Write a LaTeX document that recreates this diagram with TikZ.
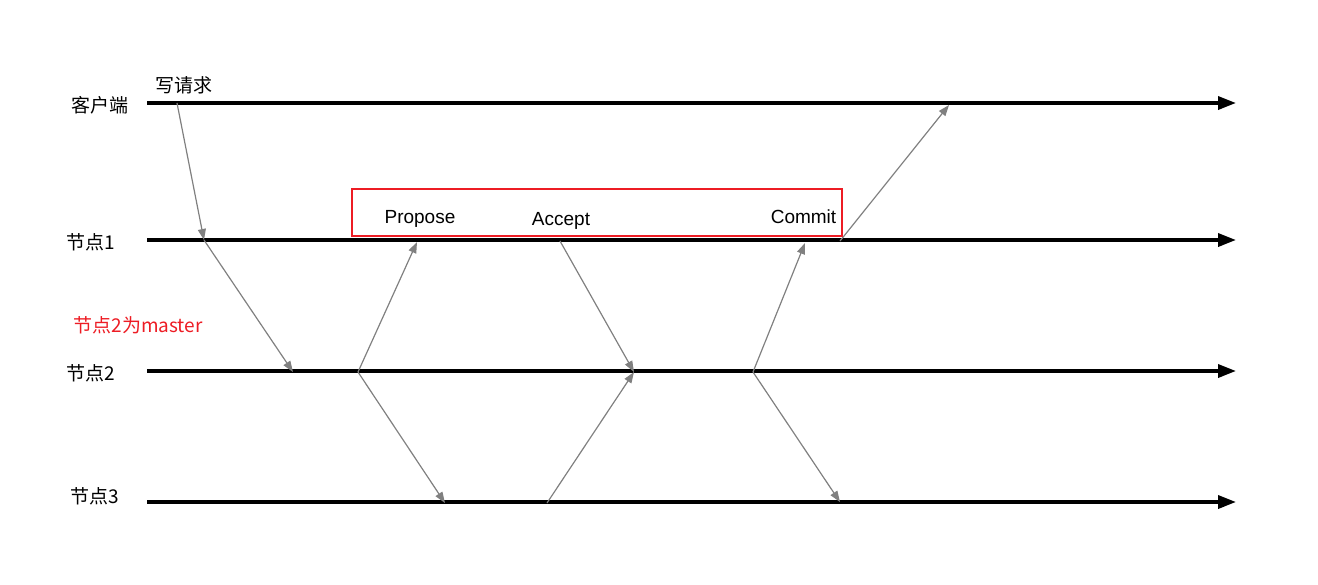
\documentclass[tikz,border=0pt]{standalone}
\usepackage{fontspec}
\usepackage{tikz}
\usetikzlibrary{arrows.meta}
\setmainfont{Liberation Sans}
\newfontfamily\cjk{Noto Sans CJK SC}
\definecolor{boxred}{RGB}{237,28,36}

\begin{document}
\begin{tikzpicture}[x=1pt, y=-1pt, every node/.style={inner sep=0pt, font=\fontsize{19}{21}\selectfont},
  timeline/.style={line width=3.5pt, -{Triangle[length=18pt, width=13pt]}},
  msg/.style={draw=gray, line width=1.2pt, -{Triangle[length=11pt, width=8pt]}}]
  \useasboundingbox (0,0) rectangle (1318,584);
  % lane labels
  \node (client) at (100,105) {\cjk 客户端};
  \node (n1) at (91,242) {\cjk 节点1};
  \node (n2) at (91,373) {\cjk 节点2};
  \node (n3) at (95,496) {\cjk 节点3};
  \node (req) at (184,85) {\cjk 写请求};
  \node [text=boxred] (master) at (138,325) {\cjk 节点2为master};
  % red box and phases
  \node [draw=boxred, line width=1.8pt, minimum width=490pt, minimum height=47pt] (phases) at (597,212.5) {};
  \node [anchor=base] (propose) at (420,223) {Propose};
  \node [anchor=base] (accept) at (561,225) {Accept};
  \node [anchor=base] (commit) at (803.5,223) {Commit};
  % lanes
  \coordinate (c0) at (147,103); \coordinate (c1) at (1236,103);
  \coordinate (a0) at (147,240); \coordinate (a1) at (1236,240);
  \coordinate (b0) at (147,371); \coordinate (b1) at (1236,371);
  \coordinate (d0) at (147,502); \coordinate (d1) at (1236,502);
  \draw [timeline] (c0) -- (c1);
  \draw [timeline] (a0) -- (a1);
  \draw [timeline] (b0) -- (b1);
  \draw [timeline] (d0) -- (d1);
  % message points
  \coordinate (cw) at (177,103);
  \coordinate (cr) at (949,105);
  \coordinate (aw) at (204,240);
  \coordinate (ap) at (417,242);
  \coordinate (aa) at (560,241);
  \coordinate (ac) at (805,243);
  \coordinate (ar) at (840,241);
  \coordinate (bw) at (293,372);
  \coordinate (bp) at (358,372);
  \coordinate (ba) at (634,372);
  \coordinate (bc) at (753,372);
  \coordinate (dp) at (445,503);
  \coordinate (da) at (547,503);
  \coordinate (dc) at (840,502);
  \draw [msg] (cw) -- (aw);
  \draw [msg] (aw) -- (bw);
  \draw [msg] (bp) -- (ap);
  \draw [msg] (bp) -- (dp);
  \draw [msg] (aa) -- (ba);
  \draw [msg] (da) -- (ba);
  \draw [msg] (bc) -- (ac);
  \draw [msg] (bc) -- (dc);
  \draw [msg] (ar) -- (cr);
\end{tikzpicture}
\end{document}
